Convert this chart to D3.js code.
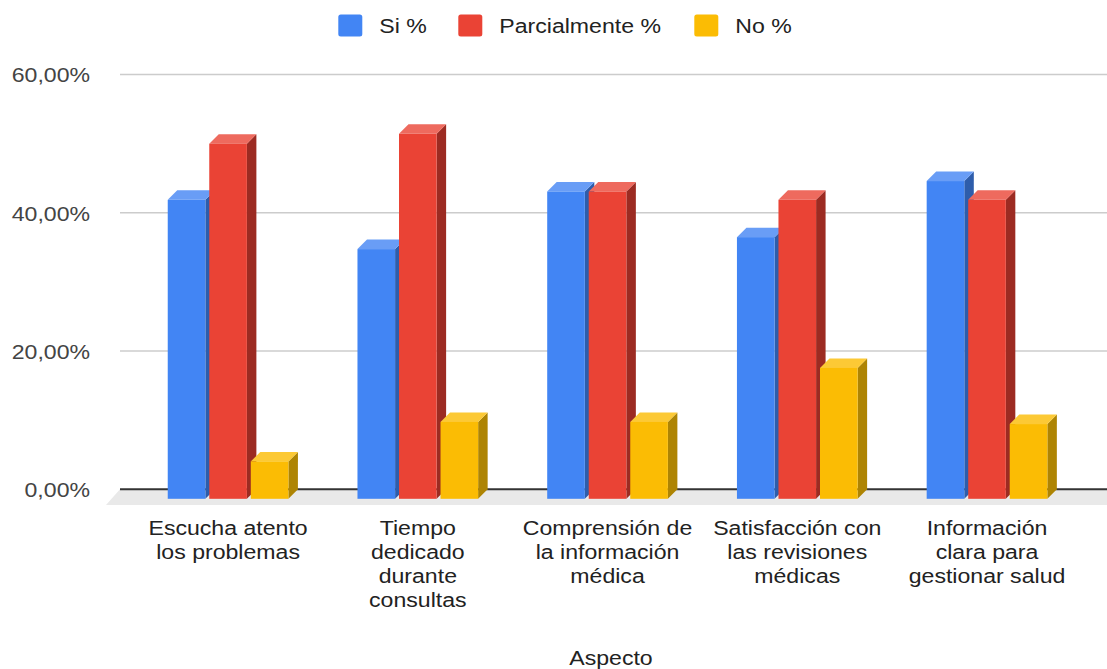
<!DOCTYPE html>
<html>
<head>
<meta charset="utf-8">
<script src="https://cdn.jsdelivr.net/npm/d3@7"></script>
<style>
  html, body { margin: 0; padding: 0; background: #fff; }
  svg { display: block; }
  text { font-family: "Liberation Sans", Arial, sans-serif; }
</style>
</head>
<body>
<svg id="chart" width="1107" height="669"></svg>
<script>
// Survey answers per aspect (percent of respondents)
const categories = [
  "Escucha atento los problemas",
  "Tiempo dedicado durante consultas",
  "Comprensión de la información médica",
  "Satisfacción con las revisiones médicas",
  "Información clara para gestionar salud"
];
const categoryLines = [
  ["Escucha atento", "los problemas"],
  ["Tiempo", "dedicado", "durante", "consultas"],
  ["Comprensión de", "la información", "médica"],
  ["Satisfacción con", "las revisiones", "médicas"],
  ["Información", "clara para", "gestionar salud"]
];
const seriesNames = ["Si %", "Parcialmente %", "No %"];
const siValues = [43.24, 36.11, 44.44, 37.84, 45.95];
const parcialValues = [51.35, 52.78, 44.44, 43.24, 43.24];
const noValues = [5.41, 11.11, 11.11, 18.92, 10.81];
const yTicks = [0, 20, 40, 60];
const xTitle = "Aspecto";

const seriesValues = [siValues, parcialValues, noValues];
const colors = ["#4285f4", "#ea4335", "#fbbc04"];
const topColors = ["#699df6", "#ee6a5e", "#fcc935"];
const sideColors = ["#2e5dab", "#9c2b22", "#ae8403"];

const svg = d3.select("#chart");
const W = 1107;
const plotLeft = 120, plotRight = 1107;
const dx = 9.5, dy = 9.5;   // 3D depth offset
const sx = 1.1;             // horizontal text stretch

const y = d3.scaleLinear().domain([0, 60]).range([489.3, 74.4]);
const x = d3.scaleBand().domain(categories).range([plotLeft, plotRight])
  .paddingInner(0.364).paddingOuter(0.283).align(0.533);
const xs = d3.scaleBand().domain(seriesNames).range([0, x.bandwidth()])
  .paddingInner(0.094).paddingOuter(0);

const loc = d3.formatLocale({ decimal: ",", thousands: ".", grouping: [3], currency: ["", "€"] });
const fmt = v => loc.format(".2f")(v) + "%";

function stretchedText(g, tx, ty, anchor) {
  return g.append("text")
    .attr("transform", `translate(${tx},${ty}) scale(${sx},1)`)
    .attr("text-anchor", anchor);
}

// floor slab
const y0 = y(0);
svg.append("path")
  .attr("d", `M${plotLeft},${y0} L${plotRight},${y0} L${plotRight},${y0 + 15.7} L${plotLeft - 14},${y0 + 15.7} Z`)
  .attr("fill", "#e9e9e9");

// gridlines
const grid = svg.append("g");
yTicks.filter(t => t !== 0).forEach(t => {
  grid.append("line")
    .attr("x1", plotLeft).attr("x2", plotRight)
    .attr("y1", y(t)).attr("y2", y(t))
    .attr("stroke", "#cccccc").attr("stroke-width", 1.5);
});
// baseline
svg.append("line")
  .attr("x1", plotLeft).attr("x2", plotRight)
  .attr("y1", y0).attr("y2", y0)
  .attr("stroke", "#333333").attr("stroke-width", 2);

// y tick labels
const yl = svg.append("g");
yTicks.forEach(t => {
  stretchedText(yl, 90, y(t) + 7.8, "end")
    .attr("font-size", 21).attr("fill", "#444444")
    .text(fmt(t));
});

// 3D bars
const bars = svg.append("g");
categories.forEach((c, ci) => {
  seriesNames.forEach((s, si) => {
    const v = seriesValues[si][ci];
    const bx = x(c) + xs(s) - dx;      // front-face left
    const w = xs.bandwidth();
    const top = y(v) + dy;             // front-face top
    const bot = y0 + dy;               // front-face bottom
    // side face
    bars.append("path")
      .attr("d", `M${bx + w},${top} L${bx + w + dx},${top - dy} L${bx + w + dx},${bot - dy} L${bx + w},${bot} Z`)
      .attr("fill", sideColors[si]);
    // top face
    bars.append("path")
      .attr("d", `M${bx},${top} L${bx + dx},${top - dy} L${bx + w + dx},${top - dy} L${bx + w},${top} Z`)
      .attr("fill", topColors[si]);
    // front face
    bars.append("rect")
      .attr("x", bx).attr("y", top)
      .attr("width", w).attr("height", bot - top)
      .attr("fill", colors[si]);
  });
});

// category labels
const xl = svg.append("g");
categories.forEach((c, ci) => {
  const cx = x(c) + x.bandwidth() / 2 - dx;
  const t = stretchedText(xl, cx, 534.5, "middle")
    .attr("font-size", 21).attr("fill", "#222222");
  categoryLines[ci].forEach((line, li) => {
    t.append("tspan").attr("x", 0).attr("y", li * 24.3).text(line);
  });
});

// axis title
stretchedText(svg, 611, 665, "middle")
  .attr("font-size", 21).attr("fill", "#222222")
  .text(xTitle);

// legend
const legendX = [338.3, 458.3, 694.3];
const lg = svg.append("g");
seriesNames.forEach((s, si) => {
  lg.append("rect")
    .attr("x", legendX[si]).attr("y", 14.5)
    .attr("width", 24).attr("height", 22).attr("rx", 2.5)
    .attr("fill", colors[si]);
  stretchedText(lg, legendX[si] + 41, 33, "start")
    .attr("font-size", 21).attr("fill", "#222222")
    .text(s);
});
</script>
</body>
</html>
